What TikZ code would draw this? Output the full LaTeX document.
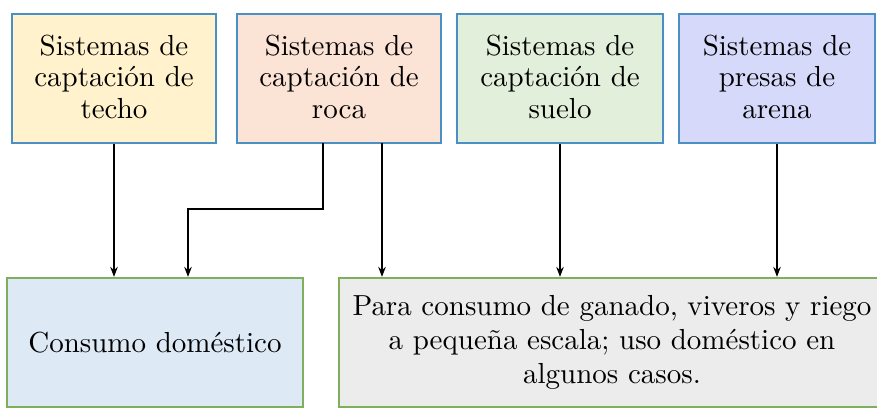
\documentclass[tikz,border=0pt]{standalone}
\usepackage{fontspec}
\setmainfont{lmroman10-regular}[Extension=.otf]
\usetikzlibrary{arrows.meta}
\definecolor{topborder}{HTML}{4A90C4}
\definecolor{botborder}{HTML}{7FAE5C}
\definecolor{fillA}{HTML}{FFF2CC}
\definecolor{fillB}{HTML}{FBE3D6}
\definecolor{fillC}{HTML}{E2EFDA}
\definecolor{fillD}{HTML}{D7D9FA}
\definecolor{fillE}{HTML}{DDEAF6}
\definecolor{fillF}{HTML}{ECECEC}
\begin{document}
\begin{tikzpicture}[x=1pt,y=-1pt,
  topbox/.style={draw=topborder,line width=2.4pt,minimum height=129pt,inner sep=0pt,align=center,
    font=\fontsize{29}{31.5}\selectfont},
  botbox/.style={draw=botborder,line width=2.2pt,minimum height=129pt,inner sep=0pt,align=center,
    font=\fontsize{29}{34}\selectfont},
  arr/.style={line width=1.8pt,-{Stealth[length=10pt,width=7.5pt]}}]
\useasboundingbox (0,0) rectangle (877,409);
\clip (0,0) rectangle (877,409);
\node[topbox,fill=fillA,minimum width=204pt] (b1) at (114,78.5) {Sistemas de\\captación de\\techo\rule[-4pt]{0pt}{4pt}};
\node[topbox,fill=fillB,minimum width=204pt] (b2) at (339,78.5) {Sistemas de\\captación de\\roca\rule[-4pt]{0pt}{4pt}};
\node[topbox,fill=fillC,minimum width=206pt] (b3) at (560,78.5) {Sistemas de\\captación de\\suelo\rule[-4pt]{0pt}{4pt}};
\node[topbox,fill=fillD,minimum width=196pt] (b4) at (777,78.5) {Sistemas de\\presas de\\arena\rule[-4pt]{0pt}{4pt}};
\node[botbox,fill=fillE,minimum width=296pt] (b5) at (155,342.5) {\raisebox{-4pt}{Consumo doméstico}};
\node[botbox,fill=fillF,minimum width=546pt] (b6) at (612,342.5) {Para consumo de ganado, viveros y riego\\a pequeña escala; uso doméstico en\\algunos casos.};
\coordinate (r1) at (323,143);
\coordinate (r2) at (382,143);
\coordinate (e1) at (323,209);
\coordinate (e2) at (188,209);
\draw[arr] (b1.south) -- (b1.south |- b5.north);
\draw[arr] (r1) -- (e1) -- (e2) -- (e2 |- b5.north);
\draw[arr] (r2) -- (r2 |- b6.north);
\draw[arr] (b3.south) -- (b3.south |- b6.north);
\draw[arr] (b4.south) -- (b4.south |- b6.north);
\end{tikzpicture}
\end{document}
